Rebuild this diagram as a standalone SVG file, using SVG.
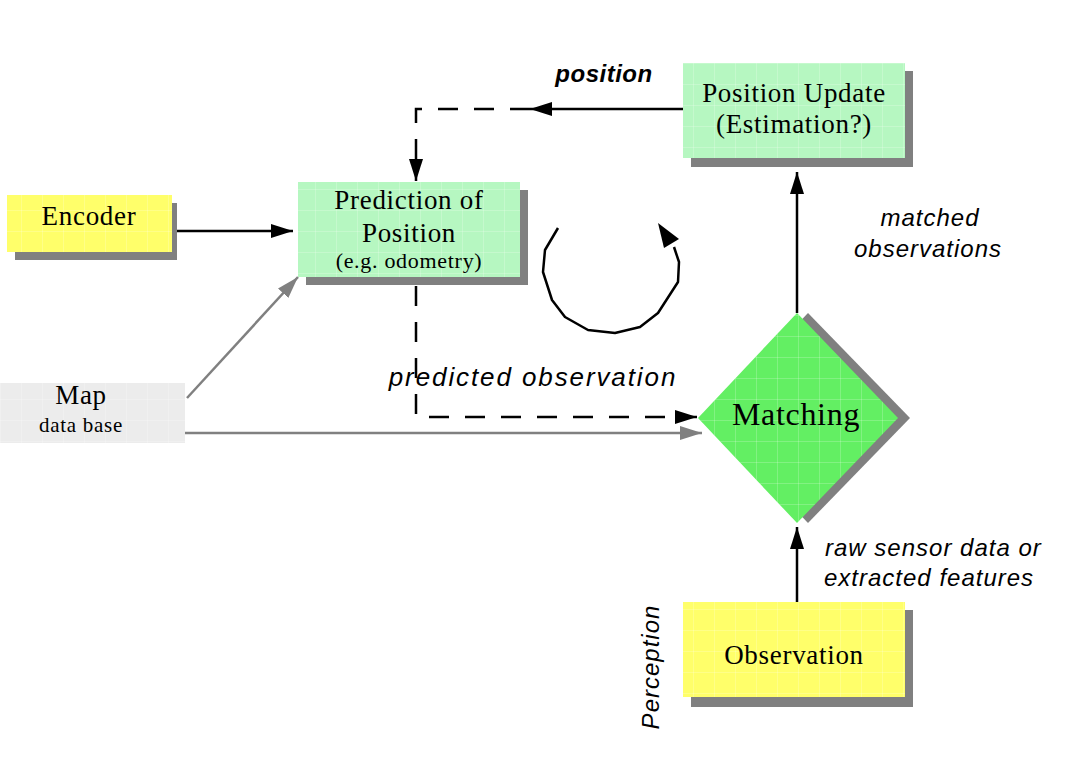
<svg xmlns="http://www.w3.org/2000/svg" width="1086" height="782" viewBox="0 0 1086 782">
<defs>
<pattern id="grid" width="21" height="21" patternUnits="userSpaceOnUse">
<path d="M0 0.5H21M0.5 0V21" fill="none" stroke="#ffffff" stroke-opacity="0.2" stroke-width="1"/>
</pattern>
<marker id="ah" markerWidth="22" markerHeight="14" refX="22" refY="7" orient="auto" markerUnits="userSpaceOnUse">
<path d="M0 0L22 7L0 14Z" fill="#000"/>
</marker>
<marker id="ahg" markerWidth="22" markerHeight="14" refX="22" refY="7" orient="auto" markerUnits="userSpaceOnUse">
<path d="M0 0L22 7L0 14Z" fill="#808080"/>
</marker>
</defs>
<style>
.shadow{fill:#808080}
.yellow{fill:#ffff6a}
.lgreen{fill:#b6f7c1}
.green{fill:#63ef63}
.grey{fill:#ececec}
.ov{fill:url(#grid)}
.node{font-family:"Liberation Serif","Times New Roman",serif;fill:#000;text-anchor:middle;letter-spacing:0.7px}
.lbl{font-family:"Liberation Sans",Arial,sans-serif;font-style:italic;fill:#000;letter-spacing:1px}
.solid{fill:none;stroke:#000;stroke-width:2.5}
.dash{fill:none;stroke:#000;stroke-width:2.5;stroke-dasharray:20 16}
.gline{fill:none;stroke:#808080;stroke-width:2.5}
</style>

<g id="connectors">
<line class="solid" x1="177" y1="231" x2="293" y2="231" marker-end="url(#ah)"/>
<line class="solid" x1="683" y1="109" x2="530" y2="109" marker-end="url(#ah)"/>
<path class="dash" d="M530 109H416V181" marker-end="url(#ah)"/>
<path class="dash" d="M416 286V417H697" marker-end="url(#ah)"/>
<line class="gline" x1="187" y1="398" x2="298" y2="277" marker-end="url(#ahg)"/>
<line class="gline" x1="185" y1="433" x2="702" y2="433" marker-end="url(#ahg)"/>
<line class="solid" x1="797" y1="313" x2="797" y2="172" marker-end="url(#ah)"/>
<line class="solid" x1="797" y1="602" x2="797" y2="527" marker-end="url(#ah)"/>
<polyline class="solid" stroke-width="3" stroke-linejoin="round" points="558,228 545,250 543,272 552,300 565,317 588,330 615,333 640,327 658,313 678,282 679,262 674,247"/>
<path d="M658 223L679 239L664 248Z" fill="#000"/>
</g>

<g id="encoder">
<rect class="shadow" x="15" y="203" width="162" height="57"/>
<rect class="yellow" x="7" y="195" width="165" height="57"/>
<rect class="ov" x="7" y="195" width="165" height="57"/>
<text class="node" x="89" y="225" font-size="27">Encoder</text>
</g>

<g id="prediction">
<rect class="shadow" x="306" y="190" width="222" height="95"/>
<rect class="lgreen" x="298" y="182" width="222" height="95"/>
<rect class="ov" x="298" y="182" width="222" height="95"/>
<text class="node" x="409" y="209" font-size="27">Prediction of</text>
<text class="node" x="409" y="242" font-size="27">Position</text>
<text class="node" x="409" y="268" font-size="22">(e.g. odometry)</text>
</g>

<g id="position-update">
<rect class="shadow" x="691" y="71" width="222" height="96"/>
<rect class="lgreen" x="683" y="63" width="222" height="95"/>
<rect class="ov" x="683" y="63" width="222" height="95"/>
<text class="node" x="794" y="102" font-size="27">Position Update</text>
<text class="node" x="794" y="133" font-size="27">(Estimation?)</text>
</g>

<g id="matching">
<path class="shadow" d="M808 313L910 418L808 523L708 418Z"/>
<path class="green" d="M797 313L898 418L797 523L698 418Z"/>
<path class="ov" d="M797 313L898 418L797 523L698 418Z"/>
<text class="node" x="796" y="425" font-size="32">Matching</text>
</g>

<g id="map">
<rect class="grey" x="0" y="383" width="185" height="60"/>
<rect class="ov" x="0" y="383" width="185" height="60"/>
<text class="node" x="81" y="404" font-size="27">Map</text>
<text class="node" x="81" y="432" font-size="21">data base</text>
</g>

<g id="observation">
<rect class="shadow" x="691" y="610" width="222" height="97"/>
<rect class="yellow" x="683" y="602" width="222" height="95"/>
<rect class="ov" x="683" y="602" width="222" height="95"/>
<text class="node" x="794" y="664" font-size="27">Observation</text>
</g>

<g id="labels">
<text class="lbl" x="604" y="82" font-size="24" font-weight="bold" text-anchor="middle" style="letter-spacing:0.5px">position</text>
<text class="lbl" x="533" y="386" font-size="26" text-anchor="middle" style="letter-spacing:1.9px">predicted observation</text>
<text class="lbl" x="930" y="226" font-size="24" text-anchor="middle">matched</text>
<text class="lbl" x="928" y="257" font-size="24" text-anchor="middle">observations</text>
<text class="lbl" x="825" y="556" font-size="24">raw sensor data or</text>
<text class="lbl" x="824" y="586" font-size="24">extracted features</text>
<text class="lbl" font-size="24" text-anchor="middle" transform="translate(659 667) rotate(-90)">Perception</text>
</g>
</svg>
